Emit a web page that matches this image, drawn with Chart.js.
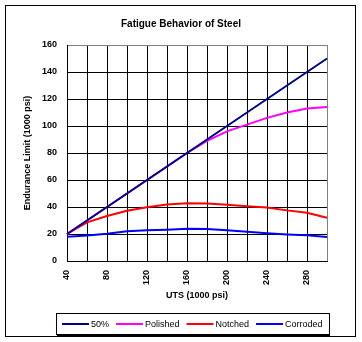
<!DOCTYPE html>
<html>
<head>
<meta charset="utf-8">
<script src="https://cdn.jsdelivr.net/npm/chart.js@4"></script>
<style>
  html, body { margin: 0; padding: 0; background: #fff; }
  #wrap { width: 362px; height: 342px; }
</style>
</head>
<body>
<div id="wrap"><canvas id="fatigueChart" width="362" height="342"></canvas></div>
<script>
const uts = [40, 60, 80, 100, 120, 140, 160, 180, 200, 220, 240, 260, 280, 300];
const half = [20, 30, 40, 50, 60, 70, 80, 90, 100, 110, 120, 130, 140, 150];
const polished = [20, 30, 40, 50, 60, 70, 80, 89, 96, 101, 106, 110, 113, 114];
const notched = [20, 28.6, 33.3, 37.2, 39.8, 41.8, 42.8, 42.6, 41.7, 40.6, 39.7, 37.5, 35.8, 32];
const corroded = [18, 18.8, 20.2, 22, 22.7, 23.2, 23.8, 23.7, 22.8, 21.6, 20.6, 19.7, 19, 17.8];

const seriesNames = ["50%", "Polished", "Notched", "Corroded"];
const seriesColors = ["#000080", "#ff00ff", "#ff0000", "#0000ff"];

const FONT = "'Liberation Sans', Arial, sans-serif";

// outer frame + boxed legend (drawn by hand to match the sheet look)
const framePlugin = {
  id: "frame",
  afterDraw(chart) {
    const ctx = chart.ctx;
    ctx.save();
    ctx.strokeStyle = "#000";
    ctx.lineWidth = 1;
    ctx.strokeRect(5.5, 5.5, 350, 331);

    ctx.strokeRect(56.5, 313.5, 273, 21);
    ctx.beginPath();
    ctx.moveTo(57, 335.5);
    ctx.lineTo(330, 335.5);
    ctx.stroke();

    ctx.font = "9px " + FONT;
    ctx.textBaseline = "middle";
    ctx.textAlign = "left";
    let x = 62;
    const y = 324;
    chart.data.datasets.forEach((ds) => {
      ctx.strokeStyle = ds.borderColor;
      ctx.lineWidth = 2;
      ctx.beginPath();
      ctx.moveTo(x, y);
      ctx.lineTo(x + 27, y);
      ctx.stroke();
      ctx.fillStyle = "#000";
      ctx.fillText(ds.label, x + 29, y + 0.5);
      x += 27 + 2 + ctx.measureText(ds.label).width + 7;
    });
    ctx.restore();
  }
};

const values = [half, polished, notched, corroded];

const ctx = document.getElementById("fatigueChart").getContext("2d");
new Chart(ctx, {
  type: "line",
  data: {
    labels: uts,
    datasets: seriesNames.map((name, i) => ({
      label: name,
      data: values[i],
      borderColor: seriesColors[i],
      backgroundColor: seriesColors[i],
      borderWidth: 2,
      pointRadius: 0,
      tension: 0,
      fill: false,
    })),
  },
  options: {
    responsive: false,
    animation: false,
    devicePixelRatio: 1,
    layout: { padding: { top: 0, left: 0, right: 0, bottom: 36 } },
    plugins: {
      legend: { display: false },
      tooltip: { enabled: false },
      title: {
        display: true,
        text: "Fatigue Behavior of Steel",
        color: "#000",
        font: { family: FONT, size: 10, weight: "bold" },
        padding: { top: 18, bottom: 15 },
      },
    },
    scales: {
      x: {
        type: "category",
        offset: false,
        afterFit(scale) { scale.height = 45; },
        grid: {
          drawTicks: false,
          color: (c) => (c.index === uts.length - 1 ? "#808080" : "#000"),
          lineWidth: 1,
        },
        border: { color: "#000", width: 1 },
        ticks: {
          autoSkip: false,
          minRotation: 90,
          maxRotation: 90,
          padding: 9,
          color: "#000",
          font: { family: FONT, size: 9, weight: "bold" },
          callback: (v, i) => (i % 2 === 0 ? uts[i] : ""),
        },
        title: {
          display: true,
          text: "UTS (1000 psi)",
          color: "#000",
          font: { family: FONT, size: 9, weight: "bold" },
          padding: { top: 0, bottom: 5 },
        },
      },
      y: {
        min: 0,
        max: 160,
        afterFit(scale) { scale.width = 67; },
        grid: {
          drawTicks: false,
          color: (c) => (c.tick && c.tick.value === 160 ? "#808080" : "#000"),
          lineWidth: 1,
        },
        border: { color: "#000", width: 1 },
        ticks: {
          stepSize: 20,
          padding: 10,
          color: "#000",
          font: { family: FONT, size: 9, weight: "bold" },
        },
        title: {
          display: true,
          text: "Endurance Limit (1000 psi)",
          color: "#000",
          font: { family: FONT, size: 9, weight: "bold" },
          padding: { top: 22, bottom: 0 },
        },
      },
      // empty right margin so the title centres on the whole frame
      spacer: {
        type: "linear",
        position: "right",
        min: 0,
        max: 160,
        afterFit(scale) { scale.width = 35; },
        grid: { display: false, drawTicks: false },
        border: { display: false },
        ticks: { display: false },
      },
    },
  },
  plugins: [framePlugin],
});
</script>
</body>
</html>
